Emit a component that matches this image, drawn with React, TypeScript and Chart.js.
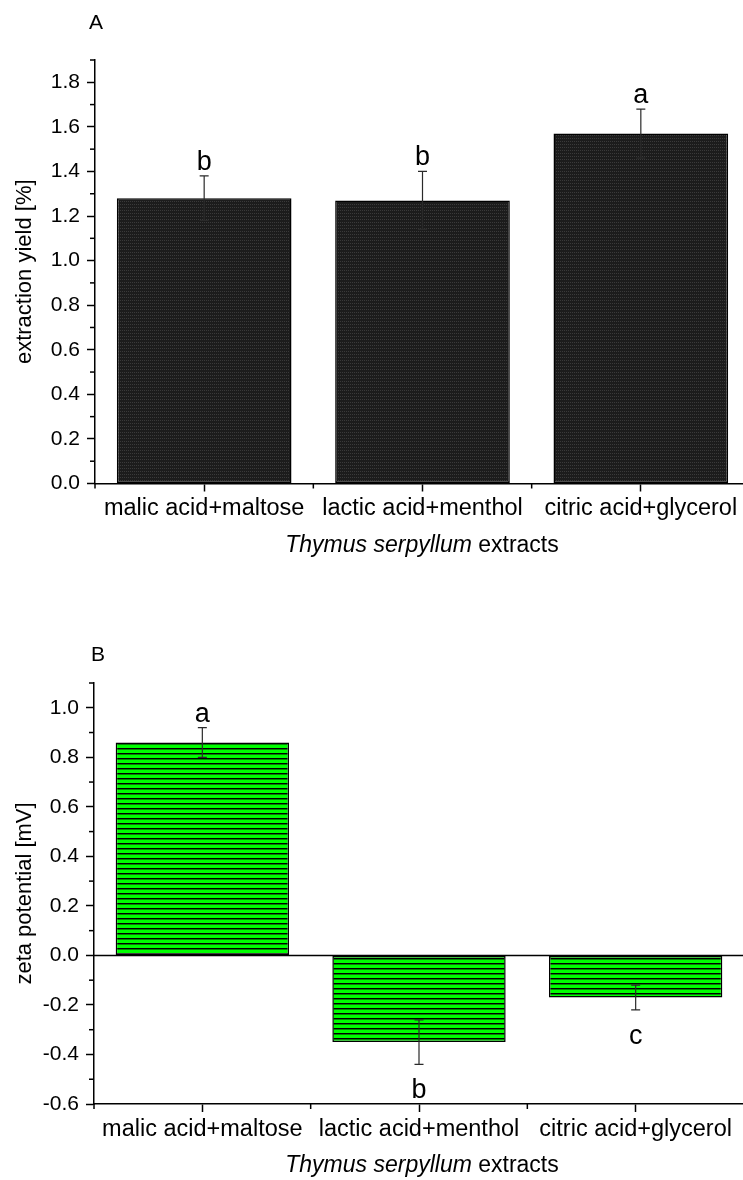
import React, { useEffect, useRef } from 'react';
import { Chart, registerables } from 'chart.js';

Chart.register(...registerables);

// ---- data ----
const categories = ['malic acid+maltose', 'lactic acid+menthol', 'citric acid+glycerol'];

const yieldValues = [1.28, 1.27, 1.57];
const yieldErrors = [0.10, 0.13, 0.11];
const yieldLetters = ['b', 'b', 'a'];
const yieldTicks = [0.0, 0.2, 0.4, 0.6, 0.8, 1.0, 1.2, 1.4, 1.6, 1.8];

const zetaValues = [0.86, -0.35, -0.17];
const zetaErrors = [0.06, 0.09, 0.05];
const zetaLetters = ['a', 'b', 'c'];
const zetaTicks = [-0.6, -0.4, -0.2, 0.0, 0.2, 0.4, 0.6, 0.8, 1.0];

const FONT = 'Arial, "Liberation Sans", Helvetica, sans-serif';
const CANVAS_W = 760;
const CANVAS_H = 590;

function makeDarkPattern(): CanvasPattern | string {
  const c = document.createElement('canvas');
  c.width = 2;
  c.height = 3;
  const g = c.getContext('2d');
  if (!g) return '#222';
  g.fillStyle = '#1c1c1c';
  g.fillRect(0, 0, 2, 3);
  g.fillStyle = '#3a3a3a';
  g.fillRect(0, 0, 1, 1);
  return g.createPattern(c, 'repeat') || '#222';
}

function makeGreenPattern(): CanvasPattern | string {
  const c = document.createElement('canvas');
  c.width = 2;
  c.height = 5;
  const g = c.getContext('2d');
  if (!g) return '#00ff00';
  g.fillStyle = '#00ff00';
  g.fillRect(0, 0, 2, 5);
  g.fillStyle = '#000000';
  g.fillRect(0, 3, 2, 1);
  g.fillStyle = '#008a00';
  g.fillRect(0, 4, 2, 1);
  return g.createPattern(c, 'repeat') || '#00ff00';
}

interface PanelCfg {
  panel: string;
  panelX: number;
  panelY: number;
  values: number[];
  errors: number[];
  letters: string[];
  ticks: number[];
  min: number;
  max: number;
  yTitle: string;
  axisTop: number;
  axisBottom: number;
  areaRight: number;
  areaLeft: number;
  fill: 'dark' | 'green';
  zeroLine: boolean;
}

function fmt(v: number): string {
  if (Math.abs(v) < 1e-9) return '0.0';
  return v.toFixed(1);
}

function makeChart(canvas: HTMLCanvasElement, cfg: PanelCfg) {
  const bg = cfg.fill === 'dark' ? makeDarkPattern() : makeGreenPattern();

  const extras = {
    id: 'extras',
    afterDraw(chart: any) {
      const ctx = chart.ctx as CanvasRenderingContext2D;
      const xs = chart.scales.x;
      const ys = chart.scales.y;
      const area = chart.chartArea;
      ctx.save();
      ctx.strokeStyle = '#000';
      ctx.fillStyle = '#000';

      // zero line
      if (cfg.zeroLine) {
        const y0 = ys.getPixelForValue(0);
        ctx.lineWidth = 1.5;
        ctx.beginPath();
        ctx.moveTo(area.left, y0);
        ctx.lineTo(area.right, y0);
        ctx.stroke();
      }

      // minor y ticks
      ctx.lineWidth = 1.5;
      const i0 = Math.round(cfg.min * 10);
      const i1 = Math.round(cfg.max * 10);
      for (let i = i0; i <= i1; i++) {
        if (Math.abs(i) % 2 === 1) {
          const y = ys.getPixelForValue(i / 10);
          ctx.beginPath();
          ctx.moveTo(area.left - 5, y);
          ctx.lineTo(area.left, y);
          ctx.stroke();
        }
      }

      // minor x ticks at category boundaries
      for (let i = 0; i <= categories.length; i++) {
        const x = xs.getPixelForValue(i - 0.5);
        ctx.beginPath();
        ctx.moveTo(x, area.bottom);
        ctx.lineTo(x, area.bottom + 5);
        ctx.stroke();
      }

      // error bars + letters
      const meta = chart.getDatasetMeta(0);
      meta.data.forEach((bar: any, i: number) => {
        const v = cfg.values[i];
        const e = cfg.errors[i];
        const x = bar.x;
        const yTop = ys.getPixelForValue(v + e);
        const yBot = ys.getPixelForValue(v - e);
        ctx.strokeStyle = '#2a2a2a';
        ctx.lineWidth = 1.2;
        ctx.beginPath();
        ctx.moveTo(x, yTop);
        ctx.lineTo(x, yBot);
        ctx.moveTo(x - 4.5, yTop);
        ctx.lineTo(x + 4.5, yTop);
        ctx.moveTo(x - 4.5, yBot);
        ctx.lineTo(x + 4.5, yBot);
        ctx.stroke();

        ctx.fillStyle = '#000';
        ctx.font = `27px ${FONT}`;
        ctx.textAlign = 'center';
        ctx.textBaseline = 'alphabetic';
        if (v >= 0) {
          ctx.fillText(cfg.letters[i], x, yTop - 6);
        } else {
          ctx.fillText(cfg.letters[i], x, yBot + 34);
        }
      });

      // y title
      ctx.save();
      ctx.translate(25, (area.top + area.bottom) / 2);
      ctx.rotate(-Math.PI / 2);
      ctx.font = `22px ${FONT}`;
      ctx.textAlign = 'center';
      ctx.textBaseline = 'middle';
      ctx.fillText(cfg.yTitle, 0, 0);
      ctx.restore();

      // x title (italic + normal)
      const italicPart = 'Thymus serpyllum';
      const normalPart = ' extracts';
      ctx.font = `italic 23px ${FONT}`;
      const w1 = ctx.measureText(italicPart).width;
      ctx.font = `23px ${FONT}`;
      const w2 = ctx.measureText(normalPart).width;
      const cx = 422;
      const tx = cx - (w1 + w2) / 2;
      const ty = area.bottom + 62;
      ctx.textAlign = 'left';
      ctx.textBaseline = 'middle';
      ctx.font = `italic 23px ${FONT}`;
      ctx.fillText(italicPart, tx, ty);
      ctx.font = `23px ${FONT}`;
      ctx.fillText(normalPart, tx + w1, ty);

      // panel label
      ctx.font = `21px ${FONT}`;
      ctx.textAlign = 'center';
      ctx.textBaseline = 'middle';
      ctx.fillText(cfg.panel, cfg.panelX, cfg.panelY);

      ctx.restore();
    },
  };

  return new Chart(canvas, {
    type: 'bar',
    data: {
      labels: categories,
      datasets: [
        {
          data: cfg.values,
          backgroundColor: bg as any,
          borderColor: '#000',
          borderWidth: 1.5,
          borderSkipped: false,
          barPercentage: 0.8,
          categoryPercentage: 1,
        },
      ],
    },
    options: {
      responsive: false,
      animation: false,
      devicePixelRatio: 1,
      layout: {
        padding: {
          top: cfg.axisTop,
          left: 0,
          right: CANVAS_W - cfg.areaRight,
          bottom: 0,
        },
      },
      plugins: {
        legend: { display: false },
        tooltip: { enabled: false },
        title: { display: false },
      },
      scales: {
        x: {
          type: 'category',
          offset: true,
          border: { display: true, color: '#000', width: 1.5 },
          grid: {
            offset: false,
            drawOnChartArea: false,
            drawTicks: true,
            tickLength: 8,
            tickColor: '#000',
            tickWidth: 1.5,
          },
          ticks: {
            color: '#000',
            font: { family: FONT, size: 23.5 },
            padding: 3,
            maxRotation: 0,
            minRotation: 0,
            autoSkip: false,
          },
          afterFit: (s: any) => {
            s.height = CANVAS_H - cfg.axisBottom;
          },
        },
        y: {
          type: 'linear',
          min: cfg.min,
          max: cfg.max,
          border: { display: true, color: '#000', width: 1.5 },
          grid: {
            drawOnChartArea: false,
            drawTicks: true,
            tickLength: 8,
            tickColor: '#000',
            tickWidth: 1.5,
          },
          ticks: {
            color: '#000',
            font: { family: FONT, size: 21 },
            padding: 7,
            callback: (v: any) => fmt(Number(v)),
          },
          afterBuildTicks: (s: any) => {
            s.ticks = cfg.ticks.map((v) => ({ value: v }));
          },
          afterFit: (s: any) => {
            s.width = cfg.areaLeft;
          },
        },
      },
    },
    plugins: [extras],
  } as any);
}

function Panel({ cfg, top }: { cfg: PanelCfg; top: number }) {
  const ref = useRef<HTMLCanvasElement | null>(null);
  useEffect(() => {
    if (!ref.current) return;
    const chart = makeChart(ref.current, cfg);
    return () => chart.destroy();
  }, []);
  return (
    <canvas
      ref={ref}
      width={CANVAS_W}
      height={CANVAS_H}
      style={{ position: 'absolute', left: 0, top, width: CANVAS_W, height: CANVAS_H }}
    />
  );
}

const panelA: PanelCfg = {
  panel: 'A',
  panelX: 96,
  panelY: 23,
  values: yieldValues,
  errors: yieldErrors,
  letters: yieldLetters,
  ticks: yieldTicks,
  min: 0,
  max: 1.9,
  yTitle: 'extraction yield [%]',
  axisTop: 60,
  axisBottom: 483.5,
  areaLeft: 95,
  areaRight: 750,
  fill: 'dark',
  zeroLine: false,
};

const panelB: PanelCfg = {
  panel: 'B',
  panelX: 98,
  panelY: 65,
  values: zetaValues,
  errors: zetaErrors,
  letters: zetaLetters,
  ticks: zetaTicks,
  min: -0.6,
  max: 1.1,
  yTitle: 'zeta potential [mV]',
  axisTop: 93,
  axisBottom: 514,
  areaLeft: 94,
  areaRight: 744,
  fill: 'green',
  zeroLine: true,
};

export default function App() {
  return (
    <div
      style={{
        position: 'absolute',
        left: 0,
        top: 0,
        width: 743,
        height: 1180,
        overflow: 'hidden',
        background: '#fff',
      }}
    >
      <Panel cfg={panelA} top={0} />
      <Panel cfg={panelB} top={590} />
    </div>
  );
}
